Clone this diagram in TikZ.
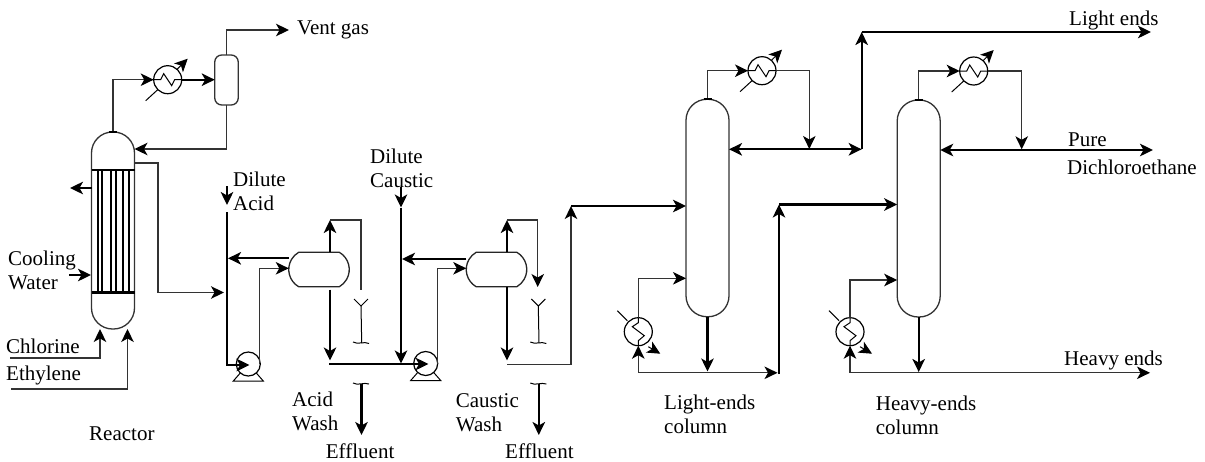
\documentclass[tikz,border=0pt]{standalone}
\usepackage{fontspec}
\setmainfont{Liberation Serif}
\usetikzlibrary{arrows.meta, shapes.misc}
\tikzset{
	thinline/.style={
			line width=1.3pt,
			draw=black!80
		},
	thickline/.style={
			line width=2.3pt,
			draw=black
		},
	vesselnode/.style={
			draw=black!80,
			line width=1.3pt,
			fill=white,
			inner sep=0pt,
			outer sep=0pt,
			minimum width=43pt,
			rounded corners=21pt
		},
	refluxnode/.style={
			vesselnode,
			minimum width=23.5pt,
			minimum height=50pt,
			rounded corners=7pt
		},
	washnode/.style={
			rounded rectangle,
			rounded rectangle arc length=120,
			draw=black!85,
			line width=1.3pt,
			fill=white,
			inner sep=0pt,
			outer sep=0pt,
			minimum width=60.5pt,
			minimum height=34.5pt
		},
	hxnode/.style={
			circle,
			draw=black,
			line width=1.2pt,
			fill=white,
			inner sep=0pt,
			outer sep=0pt,
			minimum size=28pt
		},
	pumpnode/.style={
			hxnode,
			minimum size=24pt
		},
	textnode/.style={
			anchor=west,
			align=left,
			inner sep=0pt,
			font=\fontsize{21}{24}\selectfont
		}
}
\begin{document}
\begin{tikzpicture}[x=1pt, y=-1pt, >={Stealth[length=13pt,width=12.5pt,inset=3.5pt,color=black]}]
\useasboundingbox (0,0) rectangle (1205,461);

\node[vesselnode, minimum height=197pt] (reactor) at (113,230.5) {};
\node[refluxnode] (reflux) at (226.5,80) {};
\node[washnode] (acidwash) at (319,269.5) {};
\node[washnode] (causticwash) at (496.5,269.5) {};
\node[vesselnode, minimum height=217.5pt] (lightcol) at (707.5,208) {};
\node[vesselnode, minimum height=217pt] (heavycol) at (918.7,208.5) {};

\node[hxnode] (hx1) at (167.7,79.7) {};
\node[hxnode] (hx2) at (762,70.7) {};
\node[hxnode] (hx3) at (973.7,71) {};
\node[hxnode] (reb1) at (638.3,331.7) {};
\node[hxnode] (reb2) at (850,331.7) {};
\node[pumpnode] (pump1) at (248.3,364) {};
\node[pumpnode] (pump2) at (425.7,363.5) {};

\coordinate (vent) at (289,30);
\coordinate (coolout) at (70,188);
\coordinate (coolin1) at (69,275);
\coordinate (coolin2) at (91,275);
\coordinate (chlorine) at (10,358);
\coordinate (ethylene) at (11,389);
\coordinate (reactorout) at (135,163);
\coordinate (acidfeed) at (224,292.5);
\coordinate (acid1) at (227,186);
\coordinate (acid2) at (227,205);
\coordinate (acid3) at (227,212);
\coordinate (acid4) at (227,365);
\coordinate (caustic1) at (401,187);
\coordinate (caustic2) at (401,207.5);
\coordinate (caustic3) at (401,363.5);
\coordinate (acidtop) at (330,220);
\coordinate (acidbot) at (330,360.5);
\coordinate (acidend) at (361,290);
\coordinate (washline) at (329,364);
\coordinate (causttop) at (507,220);
\coordinate (caustbot) at (507,360.5);
\coordinate (caustend) at (537.7,287);
\coordinate (caustline) at (507,364.5);
\coordinate (feed1) at (571,206);
\coordinate (feed2) at (779,204.5);
\coordinate (split1) at (861.7,149.3);
\coordinate (lightends) at (1151,32);
\coordinate (pure) at (1153,150);
\coordinate (heavyends) at (1150,372.8);
\coordinate (bot1) at (777.5,372.8);
\coordinate (bot2) at (779,374);
\coordinate (drain1) at (361,306);
\coordinate (drain2) at (538.3,306);

\draw[thinline, ->] (reactor.north) |- (hx1.west);
\draw[thickline, ->] (hx1.east) -- (reflux.west |- hx1.east);
\draw[thinline, ->] (reflux.north) |- (vent);
\draw[thinline, ->] (reflux.south) |- (reactor.east |- 0,149);
\draw[thinline, ->] (reactorout) -| (158,292.5) -- (acidfeed);
\draw[thickline, ->] (reactor.west |- coolout) -- (coolout);
\draw[thickline, ->] (coolin1) -- (coolin2);
\draw[thinline, ->] (chlorine) -| (100,329);
\draw[thinline, ->] (ethylene) -| (127.5,329);

\draw[thickline, ->] (acid1) -- (acid2);
\draw[thickline, ->] (acid3) -- (acid4) -- (249.5,365);
\draw[thickline, ->] (acidwash.west |- 0,258.3) -- (228,258.3);
\draw[thinline, ->] (259.5,364) |- (acidwash.west |- 0,268.3);
\draw[thickline, ->] (acidwash.north -| acidtop) -- (acidtop);
\draw[thinline] (acidtop) -| (acidend);
\draw[thickline, ->] (330,289.5) -- (acidbot);
\draw[thickline, ->] (washline) -- (428.5,364);

\draw[thickline, ->] (caustic1) -- (caustic2);
\draw[thickline, ->] (caustic2) -- (caustic3);
\draw[thickline, ->] (causticwash.west |- 0,259) -- (402,259);
\draw[thinline, ->] (437.5,364) |- (causticwash.west |- 0,268.3);
\draw[thickline, ->] (causticwash.north -| causttop) -- (causttop);
\draw[thinline, ->] (causttop) -| (caustend);
\draw[thickline, ->] (causticwash.south -| caustbot) -- (caustbot);
\draw[thinline, ->] (caustline) -| (feed1);
\draw[thickline, ->] (feed1) -- (lightcol.west |- feed1);

\draw[thinline, ->] (lightcol.north) |- (hx2.west);
\draw[thinline, ->] (hx2.east) -| (809.3,149);
\draw[thickline, <->] (lightcol.east |- split1) -- (split1);
\draw[thickline, ->] (split1) -- (split1 |- lightends);
\draw[thickline, ->] (split1 |- lightends) -- (lightends);
\draw[thickline, ->] (lightcol.south) -- (707.5,371.5);
\draw[thinline, ->] (reb1.south |- bot1) -- (reb1.south);
\draw[thinline, ->] (reb1.south |- bot1) -- (bot1);
\draw[thinline, ->] (reb1.north) |- (lightcol.west |- 0,278.3);
\draw[thickline, ->] (bot2) -- (feed2);
\draw[thickline, ->] (feed2) -- (heavycol.west |- feed2);

\draw[thinline, ->] (heavycol.north) |- (hx3.west);
\draw[thinline, ->] (hx3.east) -| (1021.7,149.3);
\draw[thickline, <->] (heavycol.east |- pure) -- (pure);
\draw[thickline, ->] (heavycol.south) -- (918.7,372);
\draw[thinline, ->] (reb2.south |- heavyends) -- (reb2.south);
\draw[thinline, ->] (reb2.south |- heavyends) -- (heavyends);
\draw[thinline, ->] (reb2.north) |- (heavycol.west |- 0,280);

\begin{scope}[shift={(reactor.center)}]
\foreach \tube in {-15.3,-11.3,-2,3.3,10.3,16.3}
	\draw[thickline, line width=2pt] (\tube,-60.5) -- (\tube,62);
\draw[thickline] (-21.5,-60.5) -- (21.5,-60.5);
\draw[thickline] (-21.5,62) -- (21.5,62);
\end{scope}

\foreach \vessel in {reactor,lightcol,heavycol}
	\draw[thickline] (\vessel.north) ++(-4,0) -- ++(8,0);

\foreach \hx in {hx1,hx2,hx3} {
	\begin{scope}[shift={(\hx)}]
	\draw[line width=1pt] (-14,0) -- (-7,0) -- (-4,-6) -- (4,6) -- (7,0) -- (14,0);
	\draw[line width=1pt] (-22,21) -- (-10,10);
	\draw[line width=1pt, ->] (9,-10) -- (20,-21);
	\end{scope}
}

\foreach \hx in {reb1,reb2} {
	\begin{scope}[shift={(\hx)}]
	\draw[line width=1pt] (0,-14) -- (0,-9) -- (-6,-5) -- (6,4) -- (0,9) -- (0,14);
	\draw[line width=1pt] (-21,-21) -- (-11,-11);
	\draw[line width=1pt, ->] (10,15) -- (22,22);
	\end{scope}
}

\foreach \pump in {pump1,pump2} {
	\begin{scope}[shift={(\pump)}]
	\draw[line width=1pt] (-8,9) -- (-15,17) -- (15,17) -- (8,9);
	\end{scope}
}

\foreach \drain in {drain1,drain2} {
	\begin{scope}[shift={(\drain)}]
	\draw[line width=1pt] (-7,-7) -- (0,0) -- (7,-7);
	\draw[line width=1pt] (0,0) -- (0.7,37);
	\draw[line width=1pt] (-8,36) .. controls (-3,39) and (3,35) .. (8,37.5);
	\draw[line width=1pt] (-8,77) .. controls (-3,80) and (3,76) .. (8,78);
	\draw[thickline, ->] (0.5,78) -- (0.5,129);
	\end{scope}
}

\node[textnode] (ventlabel) at (297,30) {Vent gas};
\node[textnode] (coolinglabel) at (8,270.5) {Cooling\\Water};
\node[textnode] (chlorinelabel) at (6,346.7) {Chlorine};
\node[textnode] (ethylenelabel) at (6,375) {Ethylene};
\node[textnode] (reactorlabel) at (89,434) {Reactor};
\node[textnode] (acidlabel) at (233,191) {Dilute\\Acid};
\node[textnode] (causticlabel) at (370,168) {Dilute\\Caustic};
\node[textnode] (acidwashlabel) at (292,411) {Acid\\Wash};
\node[textnode] (causticwashlabel) at (455.7,412.5) {Caustic\\Wash};
\node[textnode] (effluent1) at (325.7,451.5) {Effluent};
\node[textnode] (effluent2) at (505,451.5) {Effluent};
\node[textnode] (lightlabel) at (664,414.7) {Light-ends\\column};
\node[textnode] (heavylabel) at (875.7,415) {Heavy-ends\\column};
\node[textnode] (lightendslabel) at (1069,20) {Light ends};
\node[textnode] (purelabel) at (1068,140) {Pure};
\node[textnode] (dichlorolabel) at (1067,167.5) {Dichloroethane};
\node[textnode] (heavyendslabel) at (1064,360) {Heavy ends};
\end{tikzpicture}
\end{document}
